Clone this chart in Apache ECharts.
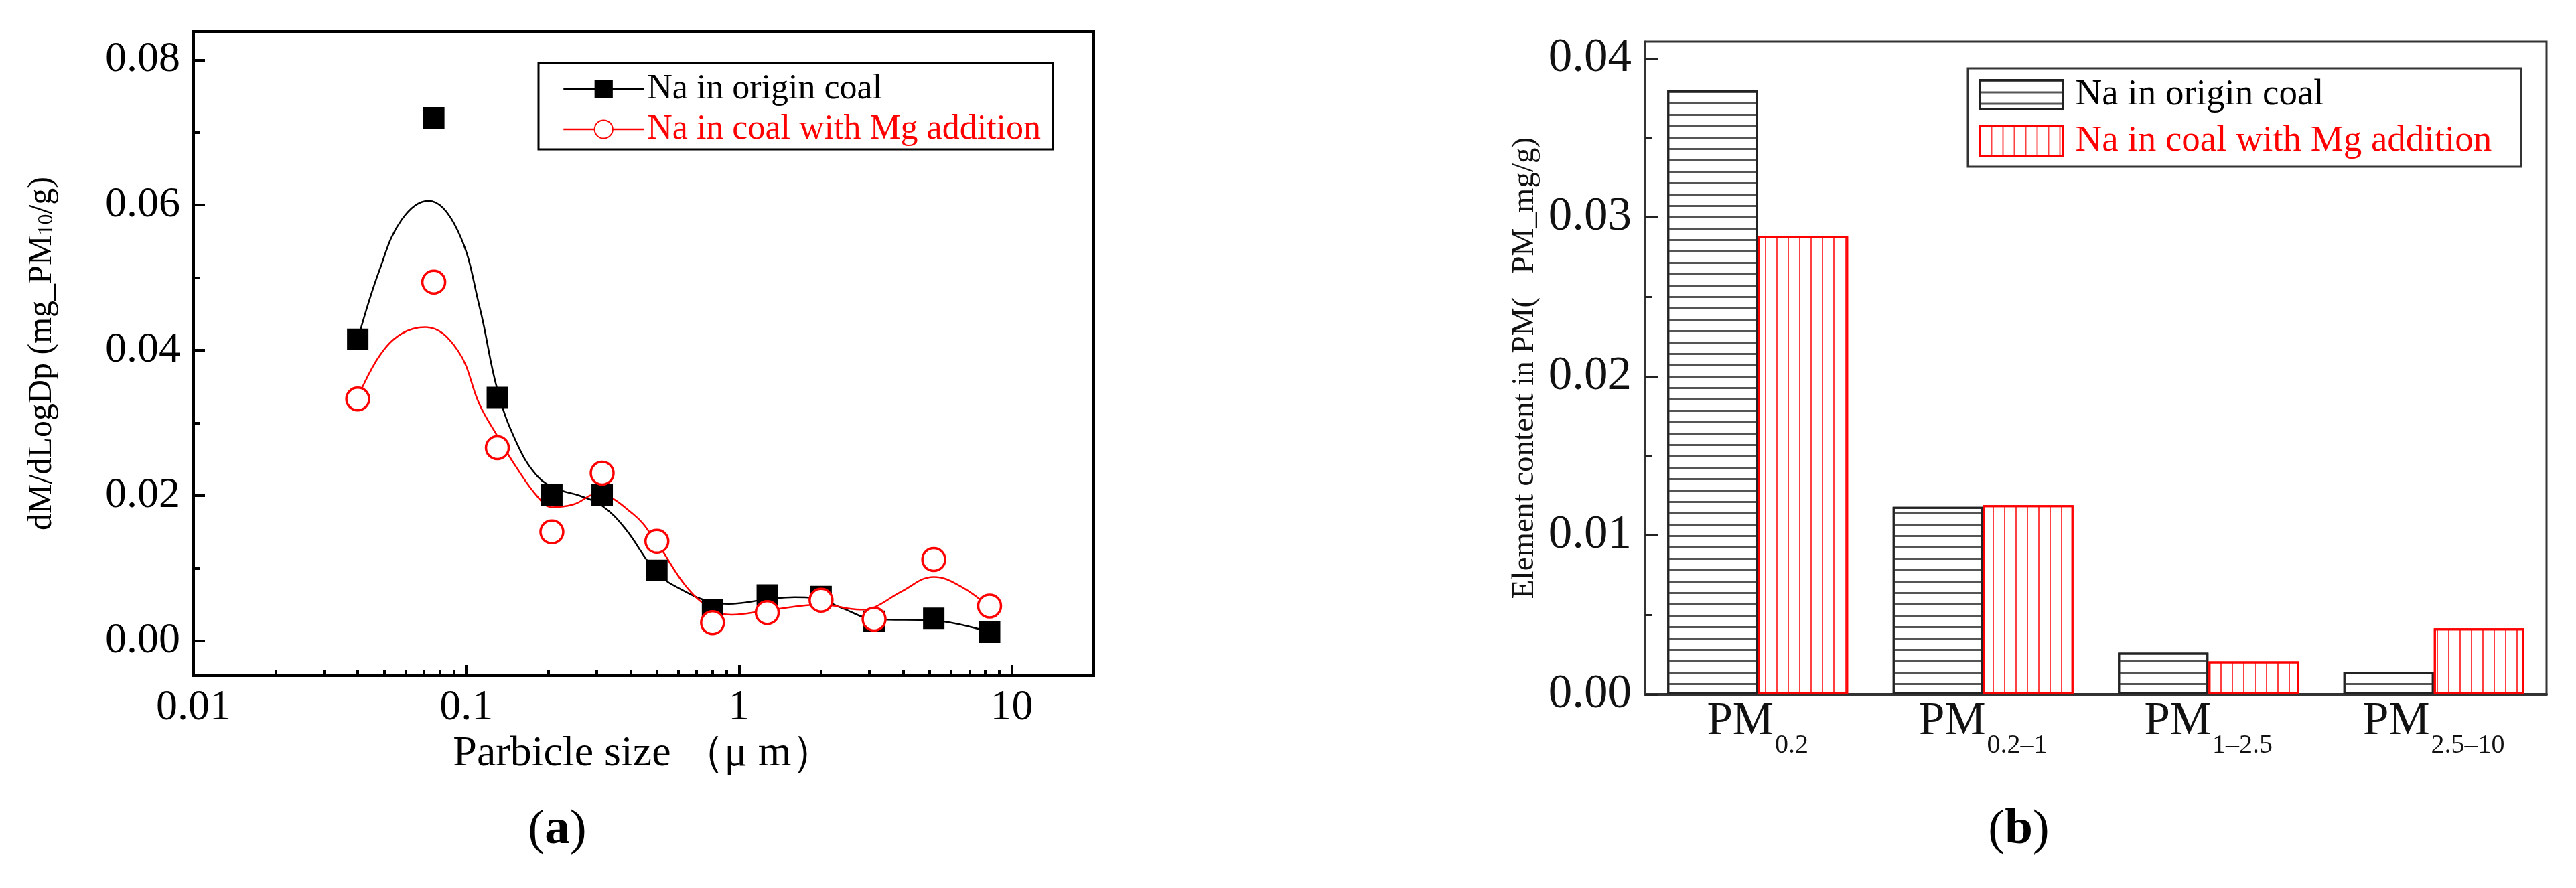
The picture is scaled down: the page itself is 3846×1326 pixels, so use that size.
<!DOCTYPE html>
<html>
<head>
<meta charset="utf-8">
<script src="https://cdn.jsdelivr.net/npm/echarts@6/dist/echarts.min.js"></script>
<style>
html,body{margin:0;padding:0;background:#fff;}
#c{width:3846px;height:1326px;}
</style>
</head>
<body>
<div id="c"></div>
<script>
// ---------- Data: panel (a) ----------
const particleSize = [0.040, 0.076, 0.130, 0.206, 0.315, 0.50, 0.80, 1.27, 2.0, 3.13, 5.18, 8.3];
const naOrigin     = [0.0415, 0.0720, 0.0335, 0.0201, 0.0201, 0.0097, 0.0043, 0.0063, 0.0061, 0.0027, 0.0031, 0.0012];
const naMg         = [0.0333, 0.0494, 0.0266, 0.0150, 0.0231, 0.0137, 0.0025, 0.0039, 0.0056, 0.0030, 0.0112, 0.0048];
// fitted curves
const fitOriginX = [0.040, 0.048, 0.058, 0.0728, 0.093, 0.112, 0.130, 0.152, 0.183, 0.22, 0.26, 0.315, 0.382, 0.50, 0.627, 0.80, 0.916, 1.27, 1.6, 2.0, 2.39, 3.13, 5.18, 8.3];
const fitOriginY = [0.0415, 0.0510, 0.0580, 0.0606, 0.0565, 0.0459, 0.0346, 0.0275, 0.0226, 0.0208, 0.0200, 0.0186, 0.0155, 0.0094, 0.0069, 0.0053, 0.0051, 0.0057, 0.0060, 0.0057, 0.0045, 0.0030, 0.0028, 0.0012];
const fitMgX = [0.040, 0.048, 0.058, 0.071, 0.093, 0.112, 0.130, 0.152, 0.183, 0.206, 0.248, 0.30, 0.408, 0.50, 0.643, 0.80, 0.94, 1.27, 2.0, 2.79, 3.13, 3.95, 5.18, 6.57, 8.3];
const fitMgY = [0.0335, 0.0392, 0.0423, 0.0432, 0.0400, 0.0325, 0.0282, 0.0240, 0.0198, 0.0184, 0.0188, 0.0202, 0.0175, 0.0135, 0.0074, 0.0043, 0.0036, 0.0042, 0.0050, 0.0043, 0.0046, 0.0068, 0.0088, 0.0074, 0.0046];
const xMajorTicks = [0.01, 0.1, 1, 10];
const xTickLabels = ['0.01', '0.1', '1', '10'];
const xMinorTicks = [0.02, 0.03, 0.04, 0.05, 0.06, 0.07, 0.08, 0.09,
                     0.2, 0.3, 0.4, 0.5, 0.6, 0.7, 0.8, 0.9,
                     2, 3, 4, 5, 6, 7, 8, 9];
const yMajorTicksA = [0, 0.02, 0.04, 0.06, 0.08];
const yMinorTicksA = [0.01, 0.03, 0.05, 0.07];

// ---------- Data: panel (b) ----------
const pmCategories = ['0.2', '0.2–1', '1–2.5', '2.5–10'];
const pmOrigin = [0.0380, 0.0118, 0.00263, 0.00139];
const pmMg     = [0.0288, 0.0119, 0.00208, 0.00416];
const yMajorTicksB = [0, 0.01, 0.02, 0.03, 0.04];
const yMinorTicksB = [0.005, 0.015, 0.025, 0.035];

const zip = (xs, ys) => xs.map((x, i) => [x, ys[i]]);
const serif = 'Liberation Serif';

const chart = echarts.init(document.getElementById('c'), null, {renderer: 'canvas', width: 3846, height: 1326});

const option = {
  backgroundColor: '#fff',
  animation: false,
  textStyle: {fontFamily: serif},
  grid: [
    {left: 289, top: 47, width: 1344, height: 962, show: true, borderColor: '#000', borderWidth: 4, backgroundColor: 'transparent'},
    {left: 2456, top: 62, width: 1346, height: 975, show: true, borderColor: '#333', borderWidth: 3, backgroundColor: 'transparent'}
  ],
  xAxis: [
    {
      type: 'log', logBase: 10, gridIndex: 0, min: 0.01, max: 20, position: 'bottom',
      axisLine: {show: true, onZero: false, lineStyle: {color: '#000', width: 4}},
      axisTick: {show: true, inside: true, length: 16, lineStyle: {color: '#000', width: 4}, customValues: xMajorTicks},
      axisLabel: {
        show: true, customValues: xMajorTicks, fontSize: 64, color: '#000', fontFamily: serif, margin: 16,
        formatter: v => {
          const i = xMajorTicks.findIndex(t => Math.abs(Math.log10(t) - Math.log10(v)) < 1e-6);
          return i >= 0 ? xTickLabels[i] : '';
        }
      },
      splitLine: {show: false}, minorTick: {show: false},
      name: 'Parbicle size （μ m）', nameLocation: 'middle', nameGap: 66,
      nameTextStyle: {fontSize: 64, color: '#000', fontFamily: serif}
    },
    {
      type: 'log', logBase: 10, gridIndex: 0, min: 0.01, max: 20, position: 'bottom',
      axisLine: {show: false, onZero: false},
      axisTick: {show: true, inside: true, length: 8, lineStyle: {color: '#000', width: 4}, customValues: xMinorTicks},
      axisLabel: {show: false}, splitLine: {show: false}
    },
    {
      type: 'category', gridIndex: 1, data: pmCategories, position: 'bottom',
      axisLine: {show: true, onZero: false, lineStyle: {color: '#333', width: 4}},
      axisTick: {show: false},
      axisLabel: {
        margin: 6, color: '#111', fontFamily: serif,
        formatter: v => '{pm|PM}{sub|' + v + '}',
        rich: {
          pm: {fontSize: 69, lineHeight: 69, fontFamily: serif, color: '#111', verticalAlign: 'top'},
          sub: {fontSize: 40, lineHeight: 40, fontFamily: serif, color: '#111', verticalAlign: 'top', padding: [50, 0, 0, 2]}
        }
      },
      splitLine: {show: false}
    }
  ],
  yAxis: [
    {
      type: 'value', gridIndex: 0, min: -0.0048, max: 0.0839, position: 'left',
      axisLine: {show: true, onZero: false, lineStyle: {color: '#000', width: 4}},
      axisTick: {show: true, inside: true, length: 17, lineStyle: {color: '#000', width: 4}, customValues: yMajorTicksA},
      axisLabel: {customValues: yMajorTicksA, fontSize: 64, color: '#000', fontFamily: serif, margin: 20, formatter: v => v.toFixed(2)},
      splitLine: {show: false},
      name: 'dM/dLogDp (mg_PM{s|10}/g)', nameLocation: 'middle', nameGap: 201, nameRotate: 90,
      nameTextStyle: {fontSize: 50, color: '#000', fontFamily: serif,
        rich: {s: {fontSize: 32, fontFamily: serif, color: '#000', padding: [14, 0, 0, 0]}}}
    },
    {
      type: 'value', gridIndex: 0, min: -0.0048, max: 0.0839, position: 'left',
      axisLine: {show: false, onZero: false},
      axisTick: {show: true, inside: true, length: 9, lineStyle: {color: '#000', width: 4}, customValues: yMinorTicksA},
      axisLabel: {show: false}, splitLine: {show: false}
    },
    {
      type: 'value', gridIndex: 1, min: 0, max: 0.04105, position: 'left',
      axisLine: {show: true, onZero: false, lineStyle: {color: '#333', width: 3}},
      axisTick: {show: true, inside: true, length: 20, lineStyle: {color: '#222', width: 3}, customValues: yMajorTicksB},
      axisLabel: {customValues: yMajorTicksB, fontSize: 71, color: '#111', fontFamily: serif, margin: 20, formatter: v => v.toFixed(2)},
      splitLine: {show: false},
      name: 'Element content in PM(   PM_mg/g)', nameLocation: 'middle', nameGap: 156, nameRotate: 90,
      nameTextStyle: {fontSize: 47, color: '#111', fontFamily: serif}
    },
    {
      type: 'value', gridIndex: 1, min: 0, max: 0.04105, position: 'left',
      axisLine: {show: false, onZero: false},
      axisTick: {show: true, inside: true, length: 10, lineStyle: {color: '#222', width: 3}, customValues: yMinorTicksB},
      axisLabel: {show: false}, splitLine: {show: false}
    }
  ],
  legend: [
    {
      left: 804, top: 94, orient: 'vertical', selectedMode: false,
      padding: [13, 18, 4, 36], itemWidth: 120, itemHeight: 34, itemGap: 8,
      borderColor: '#000', borderWidth: 3, backgroundColor: '#fff',
      textStyle: {fontSize: 52, fontFamily: serif},
      data: [
        {name: 'Na in origin coal', textStyle: {color: '#000'}, lineStyle: {color: '#000', width: 2.5, opacity: 1}},
        {name: 'Na in coal with Mg addition', textStyle: {color: '#f00'}, lineStyle: {color: '#f00', width: 2.5, opacity: 1}}
      ]
    },
    {
      left: 2938, top: 102, orient: 'vertical', selectedMode: false,
      padding: [12, 30, 11, 16], itemWidth: 124, itemHeight: 44, itemGap: 14,
      borderColor: '#333', borderWidth: 3, backgroundColor: '#fff',
      textStyle: {fontSize: 55, fontFamily: serif, padding: [0, 0, 0, 14]},
      data: [
        {name: 'Na in origin coal ', icon: 'rect', textStyle: {color: '#000'}, itemStyle: {borderColor: '#222', borderWidth: 3}},
        {name: 'Na in coal with Mg addition ', icon: 'rect', textStyle: {color: '#f00'}, itemStyle: {borderColor: '#f00', borderWidth: 3}}
      ]
    }
  ],
  graphic: [
    {type: 'text', x: 832, y: 1240, style: {text: '({b|a})', fontSize: 75, fontFamily: serif, fill: '#000', align: 'center', verticalAlign: 'middle',
      rich: {b: {fontSize: 75, fontWeight: 'bold', fontFamily: serif}}}},
    {type: 'text', x: 3014, y: 1240, style: {text: '({b|b})', fontSize: 75, fontFamily: serif, fill: '#000', align: 'center', verticalAlign: 'middle',
      rich: {b: {fontSize: 75, fontWeight: 'bold', fontFamily: serif}}}}
  ],
  series: [
    {
      name: 'fit origin', type: 'line', xAxisIndex: 0, yAxisIndex: 0, data: zip(fitOriginX, fitOriginY),
      smooth: 0.4, showSymbol: false, silent: true, lineStyle: {color: '#000', width: 2.5}, itemStyle: {color: '#000'}, z: 2
    },
    {
      name: 'fit Mg', type: 'line', xAxisIndex: 0, yAxisIndex: 0, data: zip(fitMgX, fitMgY),
      smooth: 0.4, showSymbol: false, silent: true, lineStyle: {color: '#f00', width: 2.5}, itemStyle: {color: '#f00'}, z: 3
    },
    {
      name: 'Na in origin coal', type: 'line', xAxisIndex: 0, yAxisIndex: 0, data: zip(particleSize, naOrigin),
      symbol: 'rect', symbolSize: 32, showAllSymbol: true, itemStyle: {color: '#000'}, lineStyle: {opacity: 0, width: 0}, z: 4
    },
    {
      name: 'Na in coal with Mg addition', type: 'line', xAxisIndex: 0, yAxisIndex: 0, data: zip(particleSize, naMg),
      symbol: 'circle', symbolSize: 34, showAllSymbol: true, itemStyle: {color: '#fff', borderColor: '#f00', borderWidth: 3.5},
      lineStyle: {opacity: 0, width: 0}, z: 5
    },
    {
      name: 'Na in origin coal ', type: 'bar', xAxisIndex: 2, yAxisIndex: 2, data: pmOrigin,
      barWidth: 135, barGap: '0%',
      itemStyle: {color: '#fff', borderColor: '#222', borderWidth: 3,
        decal: {symbol: 'rect', symbolSize: 1, dashArrayX: [1, 0], dashArrayY: [3, 14], color: '#555'}}
    },
    {
      name: 'Na in coal with Mg addition ', type: 'bar', xAxisIndex: 2, yAxisIndex: 2, data: pmMg,
      barWidth: 135, barGap: '0%',
      itemStyle: {color: '#fff', borderColor: '#f00', borderWidth: 3,
        decal: {symbol: 'rect', symbolSize: 1, dashArrayX: [2, 15], dashArrayY: [1, 0], color: 'rgba(255,0,0,0.75)'}}
    }
  ]
};
chart.setOption(option);
</script>
</body>
</html>
